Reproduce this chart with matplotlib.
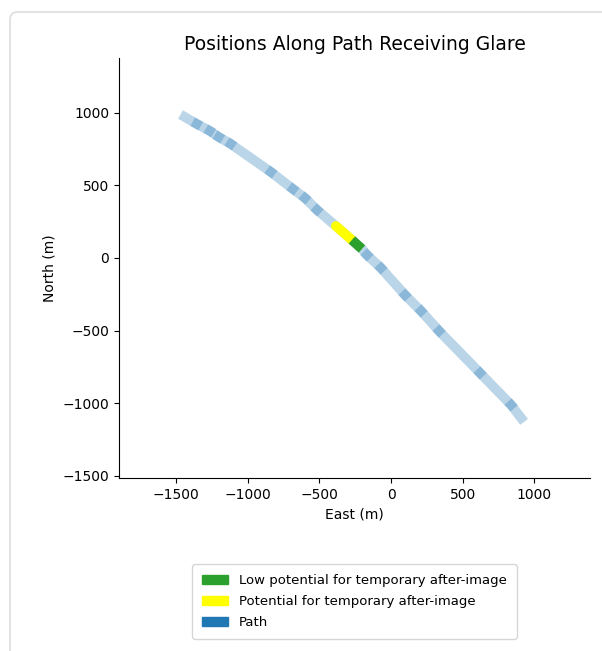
import numpy as np
import matplotlib.pyplot as plt
from matplotlib.patches import Patch, FancyBboxPatch

# path vertices (east, north) in metres
path_east = [-1441, -1357, -1266, -1203, -1119, -839, -685, -601, -517, -385,
             -273, -203, -168, -70, 98, 210, 336, 622, 839, 909]
path_north = [971, 923, 875, 833, 785, 592, 475, 413, 331, 220,
              124, 62, 21, -69, -255, -365, -503, -792, -1012, -1102]

# glare segments
yellow_east = [-385, -273]
yellow_north = [220, 124]
green_east = [-273, -203]
green_north = [124, 62]

x_ticks = [-1500, -1000, -500, 0, 500, 1000]
y_ticks = [-1500, -1000, -500, 0, 500, 1000]

fig = plt.figure(figsize=(6.02, 6.51), dpi=100)

# light frame like a notebook output cell
frame = FancyBboxPatch((10 / 602, -0.05), 1.2, 1.05 - 12 / 651,
                       boxstyle='round,pad=0,rounding_size=0.012',
                       transform=fig.transFigure, facecolor='none',
                       edgecolor='#dddddd', linewidth=1.2)
fig.patches.append(frame)

ax = fig.add_axes([119 / 602, 1 - 478 / 651, (590 - 119) / 602, (478 - 58) / 651])

lw = 7
ax.plot(path_east, path_north, color='#1f77b4', alpha=0.3, linewidth=lw,
        solid_capstyle='projecting', solid_joinstyle='round')

# darker overlaps where the path segments join
pe = np.array(path_east, dtype=float)
pn = np.array(path_north, dtype=float)
half = 32.0
for i in range(1, len(pe) - 1):
    if i in (9, 10, 11):
        continue
    d = np.array([pe[i + 1] - pe[i - 1], pn[i + 1] - pn[i - 1]])
    d = d / np.hypot(*d) * half
    ax.plot([pe[i] - d[0], pe[i] + d[0]], [pn[i] - d[1], pn[i] + d[1]],
            color='#1f77b4', alpha=0.3, linewidth=lw, solid_capstyle='butt')

ax.plot(yellow_east, yellow_north, color='yellow', linewidth=lw, solid_capstyle='round')
ax.plot(green_east, green_north, color='#2ca02c', linewidth=lw, solid_capstyle='butt')

ax.set_xlim(-1900, 1390)
ax.set_ylim(-1515, 1377)
ax.set_xticks(x_ticks)
ax.set_yticks(y_ticks)
ax.spines['top'].set_visible(False)
ax.spines['right'].set_visible(False)

ax.set_title('Positions Along Path Receiving Glare', fontsize=13.5)
ax.set_xlabel('East (m)')
ax.set_ylabel('North (m)')

handles = [Patch(color='#2ca02c', label='Low potential for temporary after-image'),
           Patch(color='yellow', label='Potential for temporary after-image'),
           Patch(color='#1f77b4', label='Path')]
ax.legend(handles=handles, loc='upper center', bbox_to_anchor=(0.5, -0.19),
          fontsize=9.5, handlelength=2.0, borderpad=0.75, labelspacing=0.6)

plt.savefig('out.png', dpi=100)
